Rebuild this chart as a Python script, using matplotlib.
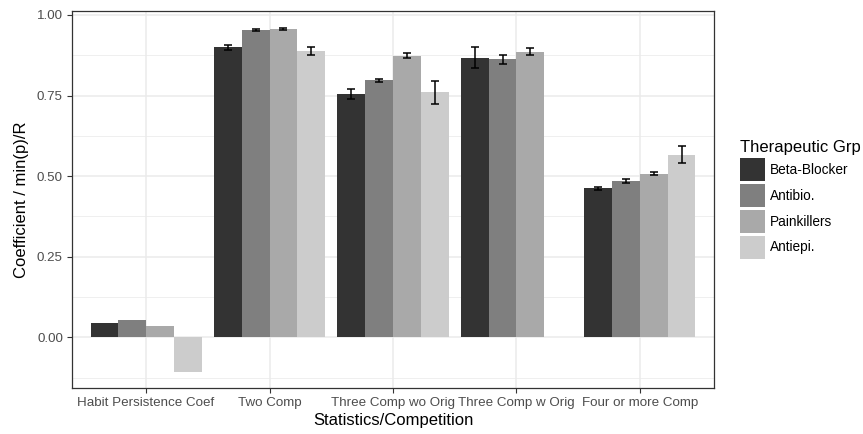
import numpy as np
import matplotlib.pyplot as plt

plt.rcParams['font.family'] = ['Liberation Sans', 'DejaVu Sans']

categories = ['Habit Persistence Coef', 'Two Comp', 'Three Comp wo Orig',
              'Three Comp w Orig', 'Four or more Comp']
groups = ['Beta-Blocker', 'Antibio.', 'Painkillers', 'Antiepi.']
fills = ['#333333', '#7F7F7F', '#A9A9A9', '#CCCCCC']

# NaN = no bar for that group
beta_blocker = [0.044, 0.900, 0.754, 0.867, 0.462]
antibio = [0.054, 0.953, 0.797, 0.862, 0.485]
painkillers = [0.035, 0.956, 0.873, 0.886, 0.508]
antiepi = [-0.107, 0.888, 0.760, np.nan, 0.567]

beta_err = [np.nan, 0.008, 0.015, 0.033, 0.004]
antibio_err = [np.nan, 0.002, 0.004, 0.013, 0.007]
painkillers_err = [np.nan, 0.003, 0.008, 0.011, 0.005]
antiepi_err = [np.nan, 0.013, 0.036, np.nan, 0.027]

values = [beta_blocker, antibio, painkillers, antiepi]
errors = [beta_err, antibio_err, painkillers_err, antiepi_err]

fig = plt.figure(figsize=(8.63, 4.34), dpi=100)
W, H = 863, 434
ax = fig.add_axes([72 / W, (H - 388) / H, (714 - 72) / W, (388 - 10.7) / H])

x = np.arange(len(categories))
bw = 0.9 / len(groups)
for i, (vals, errs) in enumerate(zip(values, errors)):
    pos = x - 0.45 + bw * (i + 0.5)
    v = np.array(vals, dtype=float)
    e = np.array(errs, dtype=float)
    ok = ~np.isnan(v)
    ax.bar(pos[ok], v[ok], width=bw, color=fills[i], label=groups[i], zorder=2)
    ok_e = ok & ~np.isnan(e)
    ax.errorbar(pos[ok_e], v[ok_e], yerr=e[ok_e], fmt='none', ecolor='black',
                elinewidth=1.1, capsize=2.6, capthick=1.1, zorder=3)

ax.set_xlim(-0.6, 4.6)
ax.set_ylim(-0.157, 1.013)
ax.set_xticks(x)
ax.set_xticklabels(categories)
ax.set_yticks([0, 0.25, 0.5, 0.75, 1.0])
ax.set_yticklabels(['0.00', '0.25', '0.50', '0.75', '1.00'])
ax.set_yticks([-0.125, 0.125, 0.375, 0.625, 0.875], minor=True)

ax.grid(which='major', color='#EBEBEB', linewidth=1.1, zorder=0)
ax.grid(which='minor', axis='y', color='#EBEBEB', linewidth=0.55, zorder=0)
ax.set_axisbelow(True)
ax.tick_params(which='minor', length=0)
ax.tick_params(which='major', length=3.5, width=0.8, color='#333333',
               labelcolor='#4D4D4D', labelsize=9.6, pad=3)
for s in ax.spines.values():
    s.set_color('#333333')
    s.set_linewidth(0.9)

ax.set_xlabel('Statistics/Competition', fontsize=12, labelpad=3)
ax.set_ylabel('Coefficient / min(p)/R', fontsize=12, labelpad=6)

leg = ax.legend(title='Therapeutic Grp', loc='upper left',
                bbox_to_anchor=(740 / W, (H - 140) / H), bbox_transform=fig.transFigure,
                frameon=False, fontsize=9.8, title_fontsize=12,
                handlelength=1.8, handleheight=2.25, labelspacing=0.2,
                handletextpad=0.4, borderpad=0, borderaxespad=0)
leg._legend_box.align = 'left'

fig.savefig('out.png', dpi=100)
